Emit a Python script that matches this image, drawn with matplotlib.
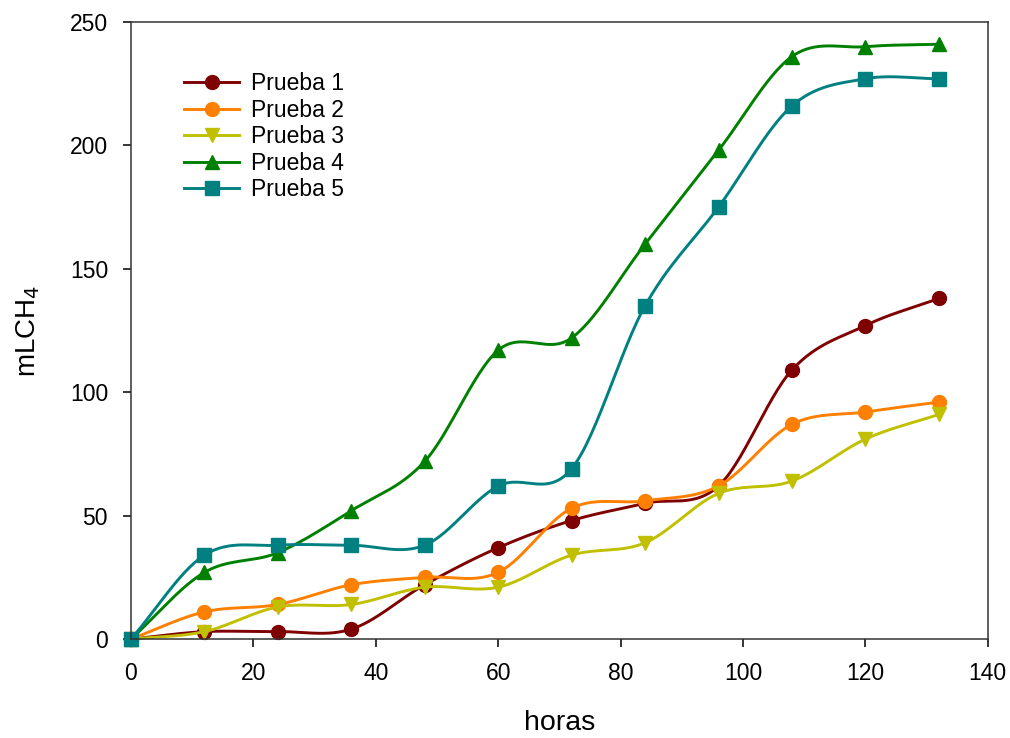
import numpy as np
import matplotlib.pyplot as plt

plt.rcParams['font.family'] = ['Liberation Sans', 'DejaVu Sans']

horas = [0, 12, 24, 36, 48, 60, 72, 84, 96, 108, 120, 132]
prueba1 = [0, 3, 3, 4, 22, 37, 48, 55, 62, 109, 127, 138]
prueba2 = [0, 11, 14, 22, 25, 27, 53, 56, 62, 87, 92, 96]
prueba3 = [0, 3, 13, 14, 21, 21, 34, 39, 59, 64, 81, 91]
prueba4 = [0, 27, 35, 52, 72, 117, 122, 160, 198, 236, 240, 241]
prueba5 = [0, 34, 38, 38, 38, 62, 69, 135, 175, 216, 227, 227]

series = [
    ('Prueba 1', prueba1, '#7f0000', 'o'),
    ('Prueba 2', prueba2, '#ff8000', 'o'),
    ('Prueba 3', prueba3, '#c0c000', 'v'),
    ('Prueba 4', prueba4, '#008000', '^'),
    ('Prueba 5', prueba5, '#008080', 's'),
]

N = 30  # samples per segment


def catmull_rom(x, y, n=N):
    # cubic hermite curve through the points, tangents from neighbours
    x = np.asarray(x, float)
    y = np.asarray(y, float)
    m = np.zeros_like(y)
    m[1:-1] = (y[2:] - y[:-2]) / (x[2:] - x[:-2])
    m[0] = (y[1] - y[0]) / (x[1] - x[0])
    m[-1] = (y[-1] - y[-2]) / (x[-1] - x[-2])
    xs, ys = [], []
    for i in range(len(x) - 1):
        h = x[i + 1] - x[i]
        t = np.linspace(0, 1, n, endpoint=False)
        h00 = 2 * t**3 - 3 * t**2 + 1
        h10 = t**3 - 2 * t**2 + t
        h01 = -2 * t**3 + 3 * t**2
        h11 = t**3 - t**2
        xs.append(x[i] + t * h)
        ys.append(h00 * y[i] + h10 * h * m[i] + h01 * y[i + 1] + h11 * h * m[i + 1])
    xs.append([x[-1]])
    ys.append([y[-1]])
    return np.concatenate(xs), np.concatenate(ys)


fig = plt.figure(figsize=(10.1, 7.38), dpi=100)
ax = fig.add_axes([0.1297, 0.1341, 0.8483, 0.8361])

for name, vals, color, mk in series:
    xs, ys = catmull_rom(horas, vals)
    ax.plot(xs, ys, color=color, lw=2.1, marker=mk, markersize=10,
            markevery=N, label=name, clip_on=False)

ax.set_xlim(0, 140)
ax.set_ylim(0, 250)
ax.set_xticks(range(0, 141, 20))
ax.set_yticks(range(0, 251, 50))
ax.tick_params(direction='out', length=6, width=1.1, labelsize=16.5, pad=10.5,
               top=False, right=False)
for s in ax.spines.values():
    s.set_linewidth(1.1)
    s.set_color('#333333')

ax.set_xlabel('horas', fontsize=20.5, labelpad=18)
ax.set_ylabel('mLCH$_4$', fontsize=20, labelpad=20)

ax.legend(loc='upper left', bbox_to_anchor=(0.049, 0.937), frameon=False,
          fontsize=16.5, handlelength=2.4, handletextpad=0.5, labelspacing=0.15,
          borderpad=0)

fig.savefig('out.png', dpi=100)
